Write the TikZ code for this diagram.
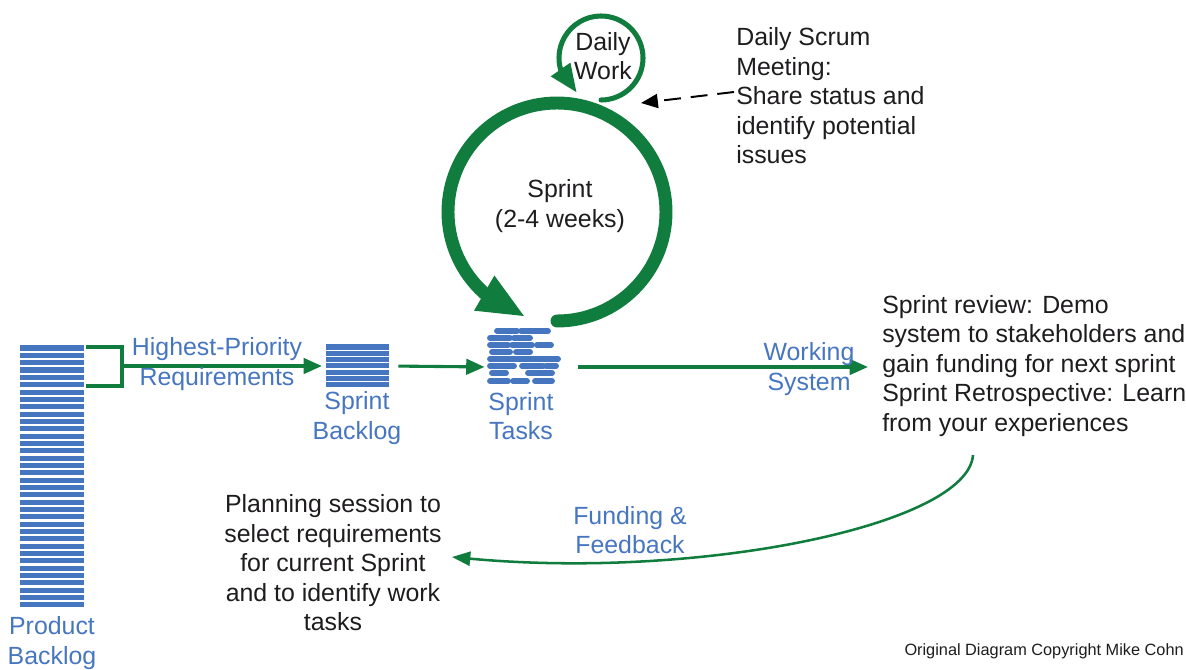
\documentclass[tikz,border=0pt]{standalone}
\usepackage{fontspec}
\setmainfont{Liberation Sans}
\usetikzlibrary{positioning,arrows.meta}
\definecolor{sgreen}{RGB}{16,124,62}
\definecolor{sblue}{RGB}{70,118,192}
\definecolor{stext}{RGB}{30,28,30}

\begin{document}
\begin{tikzpicture}[x=0.025cm,y=-0.025cm,
  font=\fontsize{17.7}{21}\selectfont, text=stext,
  bar/.style={sblue, line width=3.6pt},
  flow/.style={sgreen, line width=2.2pt, -{Triangle[length=13pt,width=11pt]}},
  bluetxt/.style={text=sblue, align=center, inner sep=0pt},
  blacktxt/.style={inner sep=0pt}]

\useasboundingbox (0,0) rectangle (1186,670);

% product backlog
\node[minimum width=1.65cm, minimum height=6.55cm, inner sep=0pt] (PB) at (52,476) {};
\foreach \i in {0,...,35}
  \draw[bar] (20,{348+7.34*\i}) -- (84,{348+7.34*\i});
\node[bluetxt] (PBl) at (52,643) {Product\\Backlog};

% sprint backlog
\node[minimum width=1.6cm, minimum height=1cm, inner sep=0pt] (SB) at (357,366) {};
\foreach \i in {0,...,6}
  \draw[bar] (326,{347+6.3*\i}) -- (389,{347+6.3*\i});
\node[bluetxt] (SBl) at (357,418) {Sprint\\Backlog};

% sprint tasks
\node[minimum width=1.75cm, minimum height=1.4cm, inner sep=0pt] (ST) at (524,367) {};
\foreach \y/\a/\b in {331/497/517, 331/521/548, 338/490/510, 338/514/530,
    345/490/508, 345/512/532, 345/537/551, 352/492/510, 352/516/530,
    359/490/558, 366/490/514, 366/522/543, 366/546/556,
    373/492/506, 373/528/552, 381/490/508, 381/513/527, 381/535/552}
  \draw[bar, line width=4.2pt, line cap=round] (\a,\y) -- (\b,\y);
\node[bluetxt] (STl) at (521,416) {Sprint\\Tasks};

% sprint and daily loops
\node[blacktxt, align=center] (SP) at (560,206) {Sprint\\(2-4 weeks)};
\node[blacktxt, align=center] (DW) at (603,56) {Daily\\Work};
\coordinate (SPs) at (557,321);
\coordinate (DWs) at (601,100);
\draw[sgreen, line width=9.2pt, line cap=round, -{Triangle[length=34pt,width=26pt]}]
  (SPs) arc[start angle=90, end angle=-228, radius=109] -- ++(30:48);
\draw[sgreen, line width=3.6pt, line cap=round, -{Triangle[length=20pt,width=16pt]}]
  (DWs) arc[start angle=90, end angle=-196, radius=42] -- ++(55:28);

% daily scrum
\node[blacktxt, align=left, anchor=west] (DS) at (736,96)
  {Daily Scrum\\Meeting:\\Share status and\\identify potential\\issues};
\coordinate (DSa) at (734,92);
\coordinate (DWe) at (641,103);
\draw[line width=1.4pt, dash pattern=on 12pt off 7pt, -{Triangle[length=12pt,width=10pt]}]
  (DSa) -- (DWe);

% flow
\coordinate (HPc) at (122,366);
\draw[sgreen, line width=2.2pt] (86,347) -| (122,386) -- (86,386);
\draw[flow, shorten >=2pt] (HPc) -- (SB.west);
\node[bluetxt] (HP) at (217,364) {Highest-Priority\\Requirements};
\draw[flow, shorten <=6.4pt, shorten >=3pt] (SB.east) -- (ST.west);

\node[blacktxt, align=left, anchor=west] (REV) at (882,366)
  {Sprint review: Demo\\system to stakeholders and\\gain funding for next sprint\\Sprint Retrospective: Learn\\from your experiences};
\draw[flow, shorten <=13.5pt, shorten >=10pt] (ST.east) -- (ST.east -| REV.west);
\node[bluetxt] (WS) at (809,369) {Working\\System};

% feedback
\node[blacktxt, align=center] (PL) at (333,563)
  {Planning session to\\select requirements\\for current Sprint\\and to identify work\\tasks};
\coordinate (REVs) at (973,455);
\coordinate (PLe) at (452,557);
\draw[sgreen, line width=1.8pt, -{Triangle[length=13pt,width=10pt]}]
  (REVs) .. controls (968,525) and (700,580) .. (PLe);
\node[bluetxt] (FF) at (630,530) {Funding \&\\Feedback};

\node[anchor=east, inner sep=0pt, font=\fontsize{11.6}{14}\selectfont] (CR) at (1184,651)
  {Original Diagram Copyright Mike Cohn};
\end{tikzpicture}
\end{document}
